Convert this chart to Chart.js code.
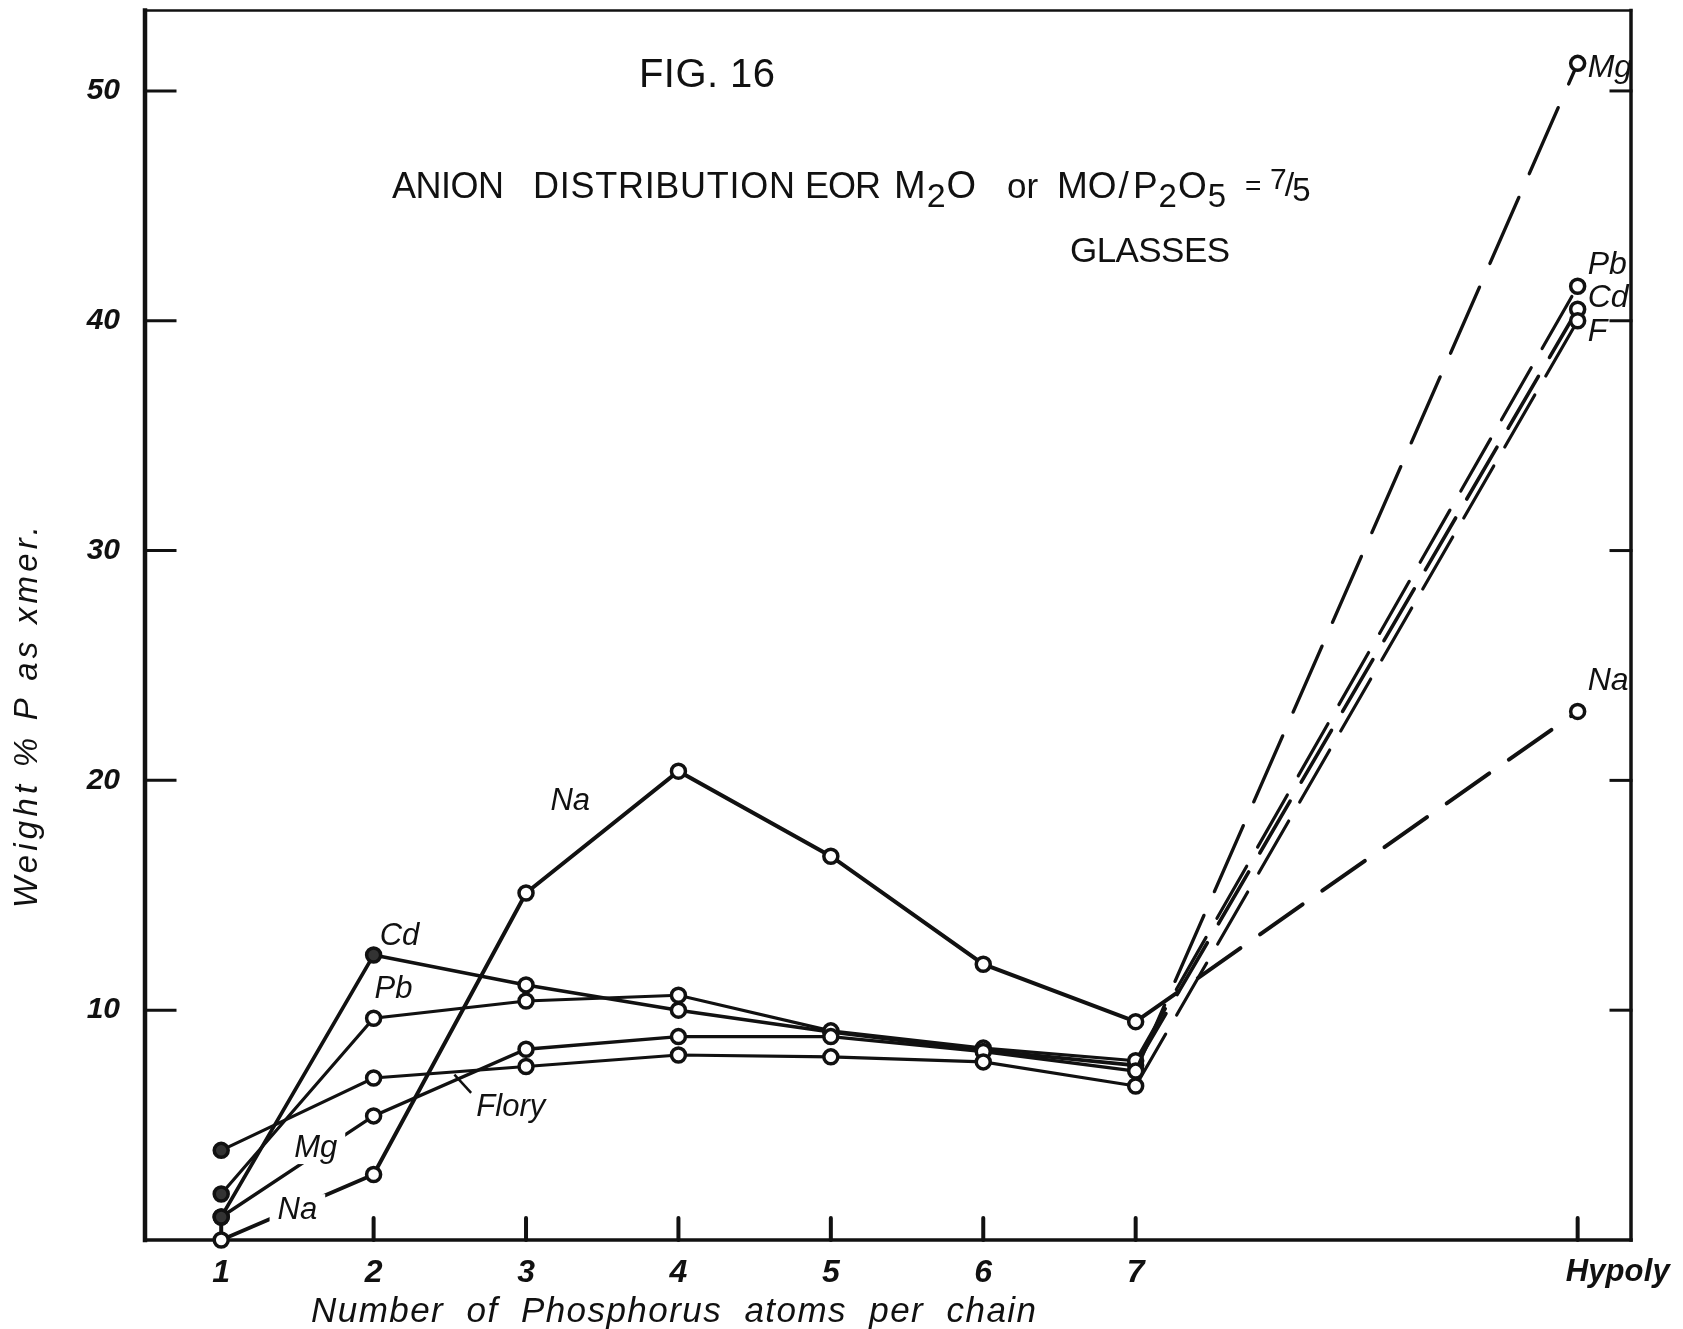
<!DOCTYPE html>
<html>
<head>
<meta charset="utf-8">
<title>Fig. 16 anion distribution</title>
<script src="https://cdn.jsdelivr.net/npm/chart.js@4.4.1/dist/chart.umd.min.js"></script>
<style>
  html, body { margin: 0; padding: 0; background: #fff; }
  canvas { display: block; }
</style>
</head>
<body>
<canvas id="fig" width="1683" height="1329"></canvas>
<script>
// chain length categories; the last one is the high polymer ("Hypoly")
const chainLengths = [1, 2, 3, 4, 5, 6, 7, 9.9];
const chainTickLabels = ['1', '2', '3', '4', '5', '6', '7', 'Hypoly'];
const weightTicks = [10, 20, 30, 40, 50];

// weight % P present as each x-mer
const naValues    = [0.0, 2.85, 15.1, 20.4, 16.7, 12.0, 9.5, 23.0];
const cdValues    = [1.0, 12.4, 11.1, 10.0, 9.05, 8.25, 7.6, 40.5];
const pbValues    = [2.0, 9.65, 10.4, 10.65, 9.1, 8.35, 7.8, 41.5];
const mgValues    = [1.0, 5.4, 8.3, 8.85, 8.85, 8.2, 7.35, 51.2];
const floryValues = [3.9, 7.05, 7.55, 8.05, 7.97, 7.75, 6.7, 40.0];

// hand lettering next to the curves (data coordinates)
const curveNotes = [
  { text: 'Na', x: 3.29, y: 19.1 },
  { text: 'Cd', x: 2.17, y: 13.2 },
  { text: 'Pb', x: 2.13, y: 10.9 },
  { text: 'Mg', x: 1.62, y: 4.0, knockout: true },
  { text: 'Na', x: 1.5, y: 1.3, knockout: true },
  { text: 'Flory', x: 2.9, y: 5.75 }
];
const endNotes = [
  { text: 'Mg', y: 51.0 },
  { text: 'Pb', y: 42.4 },
  { text: 'Cd', y: 41.0 },
  { text: 'F', y: 39.5 },
  { text: 'Na', y: 24.3 }
];

const ink = '#111';
const FONT = '"Liberation Sans", Arial, sans-serif';

function curve(label, values, width, dash, inkedPoints) {
  return {
    label,
    data: chainLengths.map((x, i) => ({ x, y: values[i] })),
    borderColor: ink,
    borderWidth: width,
    borderCapStyle: 'round',
    pointRadius: 7,
    pointBorderWidth: 3.5,
    // a few of the hand-inked circles came out nearly solid
    pointBackgroundColor: ctx => inkedPoints.includes(ctx.dataIndex) ? '#333' : '#fff',
    pointBorderColor: ink,
    tension: 0,
    clip: false,
    segment: {
      // the step out to the high polymer is drawn dashed
      borderDash: ctx => ctx.p1DataIndex === chainLengths.length - 1 ? dash : undefined
    }
  };
}

// draws text so that it spans the given width
function fitText(ctx, text, left, baseline, width, font) {
  ctx.font = font;
  ctx.letterSpacing = '0px';
  const natural = ctx.measureText(text).width;
  const n = Math.max(text.length - 1, 1);
  ctx.letterSpacing = ((width - natural) / n) + 'px';
  ctx.textAlign = 'left';
  ctx.fillText(text, left, baseline);
  ctx.letterSpacing = '0px';
}

// runs of [text, size, dy, gapAfter] drawn one after another
function drawRun(ctx, left, baseline, parts) {
  let cx = left;
  ctx.textAlign = 'left';
  for (const [t, size, dy, gap] of parts) {
    ctx.font = size + 'px ' + FONT;
    ctx.fillText(t, cx, baseline + dy);
    cx += ctx.measureText(t).width + (gap || 0);
  }
}

const figureDecor = {
  id: 'figureDecor',
  beforeDatasetsDraw(chart) {
    const { ctx, chartArea: a, scales: { x, y } } = chart;
    ctx.save();
    ctx.strokeStyle = ink;
    ctx.lineCap = 'square';
    // frame
    ctx.lineWidth = 4.5;
    ctx.beginPath(); ctx.moveTo(a.left, a.top); ctx.lineTo(a.left, a.bottom); ctx.stroke();
    ctx.lineWidth = 3.5;
    ctx.beginPath(); ctx.moveTo(a.left, a.bottom); ctx.lineTo(a.right, a.bottom); ctx.stroke();
    ctx.beginPath(); ctx.moveTo(a.right, a.top); ctx.lineTo(a.right, a.bottom); ctx.stroke();
    ctx.lineWidth = 2.5;
    ctx.beginPath(); ctx.moveTo(a.left, a.top); ctx.lineTo(a.right, a.top); ctx.stroke();
    // inward ticks
    ctx.lineWidth = 3;
    for (const v of weightTicks) {
      const py = y.getPixelForValue(v);
      ctx.beginPath(); ctx.moveTo(a.left, py); ctx.lineTo(a.left + 30, py); ctx.stroke();
      ctx.beginPath(); ctx.moveTo(a.right - 20, py); ctx.lineTo(a.right, py); ctx.stroke();
    }
    ctx.lineWidth = 4;
    ctx.lineCap = 'round';
    for (const v of chainLengths) {
      const px = x.getPixelForValue(v);
      ctx.beginPath(); ctx.moveTo(px, a.bottom); ctx.lineTo(px, a.bottom - 22); ctx.stroke();
    }
    ctx.restore();
  },
  afterDatasetsDraw(chart) {
    const { ctx, chartArea: a, scales: { x, y } } = chart;
    ctx.save();
    ctx.fillStyle = ink;
    ctx.strokeStyle = ink;
    ctx.textBaseline = 'middle';

    // y tick labels
    ctx.font = 'bold italic 30px ' + FONT;
    ctx.textAlign = 'right';
    for (const v of weightTicks) {
      ctx.fillText(String(v), a.left - 25, y.getPixelForValue(v));
    }

    // curve names
    ctx.font = 'italic 31px ' + FONT;
    for (const n of curveNotes) {
      const px = x.getPixelForValue(n.x);
      const py = y.getPixelForValue(n.y);
      const w = ctx.measureText(n.text).width;
      if (n.knockout) {
        ctx.fillStyle = '#fff';
        ctx.fillRect(px - w / 2 - 8, py - 16, w + 16, 32);
        ctx.fillStyle = ink;
      }
      ctx.textAlign = 'center';
      ctx.fillText(n.text, px, py);
    }
    // leader from the Flory label to its curve
    ctx.lineWidth = 2.5;
    ctx.beginPath();
    ctx.moveTo(x.getPixelForValue(2.64), y.getPixelForValue(6.4));
    ctx.lineTo(x.getPixelForValue(2.53), y.getPixelForValue(7.2));
    ctx.stroke();

    // names at the high polymer end
    ctx.font = 'italic 32px ' + FONT;
    ctx.textAlign = 'left';
    const hx = x.getPixelForValue(chainLengths[chainLengths.length - 1]);
    for (const n of endNotes) {
      ctx.fillText(n.text, hx + 10, y.getPixelForValue(n.y));
    }

    // x tick labels
    ctx.textBaseline = 'alphabetic';
    chainTickLabels.forEach((lab, i) => {
      const px = x.getPixelForValue(chainLengths[i]);
      if (lab.length > 1) {
        fitText(ctx, lab, px - 12, a.bottom + 41, 104, 'bold italic 31px ' + FONT);
      } else {
        ctx.font = 'bold italic 32px ' + FONT;
        ctx.textAlign = 'center';
        ctx.fillText(lab, px, a.bottom + 42);
      }
    });

    // axis titles
    fitText(ctx, 'Number  of  Phosphorus  atoms  per  chain', 311, 1322, 725, 'italic 35px ' + FONT);
    ctx.save();
    ctx.translate(37, 908);
    ctx.rotate(-Math.PI / 2);
    fitText(ctx, 'Weight % P as xmer.', 0, 0, 382, 'italic 33px ' + FONT);
    ctx.restore();

    // figure heading
    fitText(ctx, 'FIG. 16', 639, 87, 136, '40px ' + FONT);
    const tb = 198;
    fitText(ctx, 'ANION', 392, tb, 112, '36px ' + FONT);
    fitText(ctx, 'DISTRIBUTION', 533, tb, 262, '36px ' + FONT);
    fitText(ctx, 'EOR', 805, tb, 76, '36px ' + FONT);
    drawRun(ctx, 894, tb, [['M', 38, 0, 1], ['2', 34, 9, 1], ['O', 38, 0]]);
    drawRun(ctx, 1007, tb, [['or', 35, 0]]);
    drawRun(ctx, 1057, tb, [['MO', 37, 0, 2], ['/', 37, 0, 4], ['P', 37, 0, 1], ['2', 33, 9, 1], ['O', 37, 0, 1], ['5', 33, 9]]);
    drawRun(ctx, 1245, tb - 3, [['=', 28, 0]]);
    drawRun(ctx, 1270, tb, [['7', 30, -9, -2], ['/', 34, -2, -2], ['5', 33, 3]]);
    fitText(ctx, 'GLASSES', 1070, 262, 160, '35px ' + FONT);

    ctx.restore();
  }
};

new Chart(document.getElementById('fig'), {
  type: 'line',
  data: {
    datasets: [
      curve('Flory', floryValues, 3.2, [60, 22], [0]),
      curve('Mg', mgValues, 3.4, [72, 26], [0]),
      curve('Pb', pbValues, 3.2, [60, 22], [0]),
      curve('Cd', cdValues, 3.6, [60, 22], [0, 1]),
      curve('Na', naValues, 4, [52, 24], [])
    ]
  },
  options: {
    responsive: false,
    devicePixelRatio: 1,
    animation: false,
    layout: { padding: { top: 9, right: 52, left: 0, bottom: 0 } },
    plugins: { legend: { display: false }, tooltip: { enabled: false } },
    scales: {
      x: {
        type: 'linear',
        min: 0.5,
        max: 10.25,
        afterBuildTicks: s => { s.ticks = chainLengths.map(v => ({ value: v })); },
        grid: { display: false, drawTicks: false },
        border: { display: false },
        ticks: { display: false },
        afterFit: s => { s.height = 89; }
      },
      y: {
        type: 'linear',
        min: 0,
        max: 53.5,
        afterBuildTicks: s => { s.ticks = weightTicks.map(v => ({ value: v })); },
        grid: { display: false, drawTicks: false },
        border: { display: false },
        ticks: { display: false },
        afterFit: s => { s.width = 145; }
      }
    }
  },
  plugins: [figureDecor]
});
</script>
</body>
</html>
